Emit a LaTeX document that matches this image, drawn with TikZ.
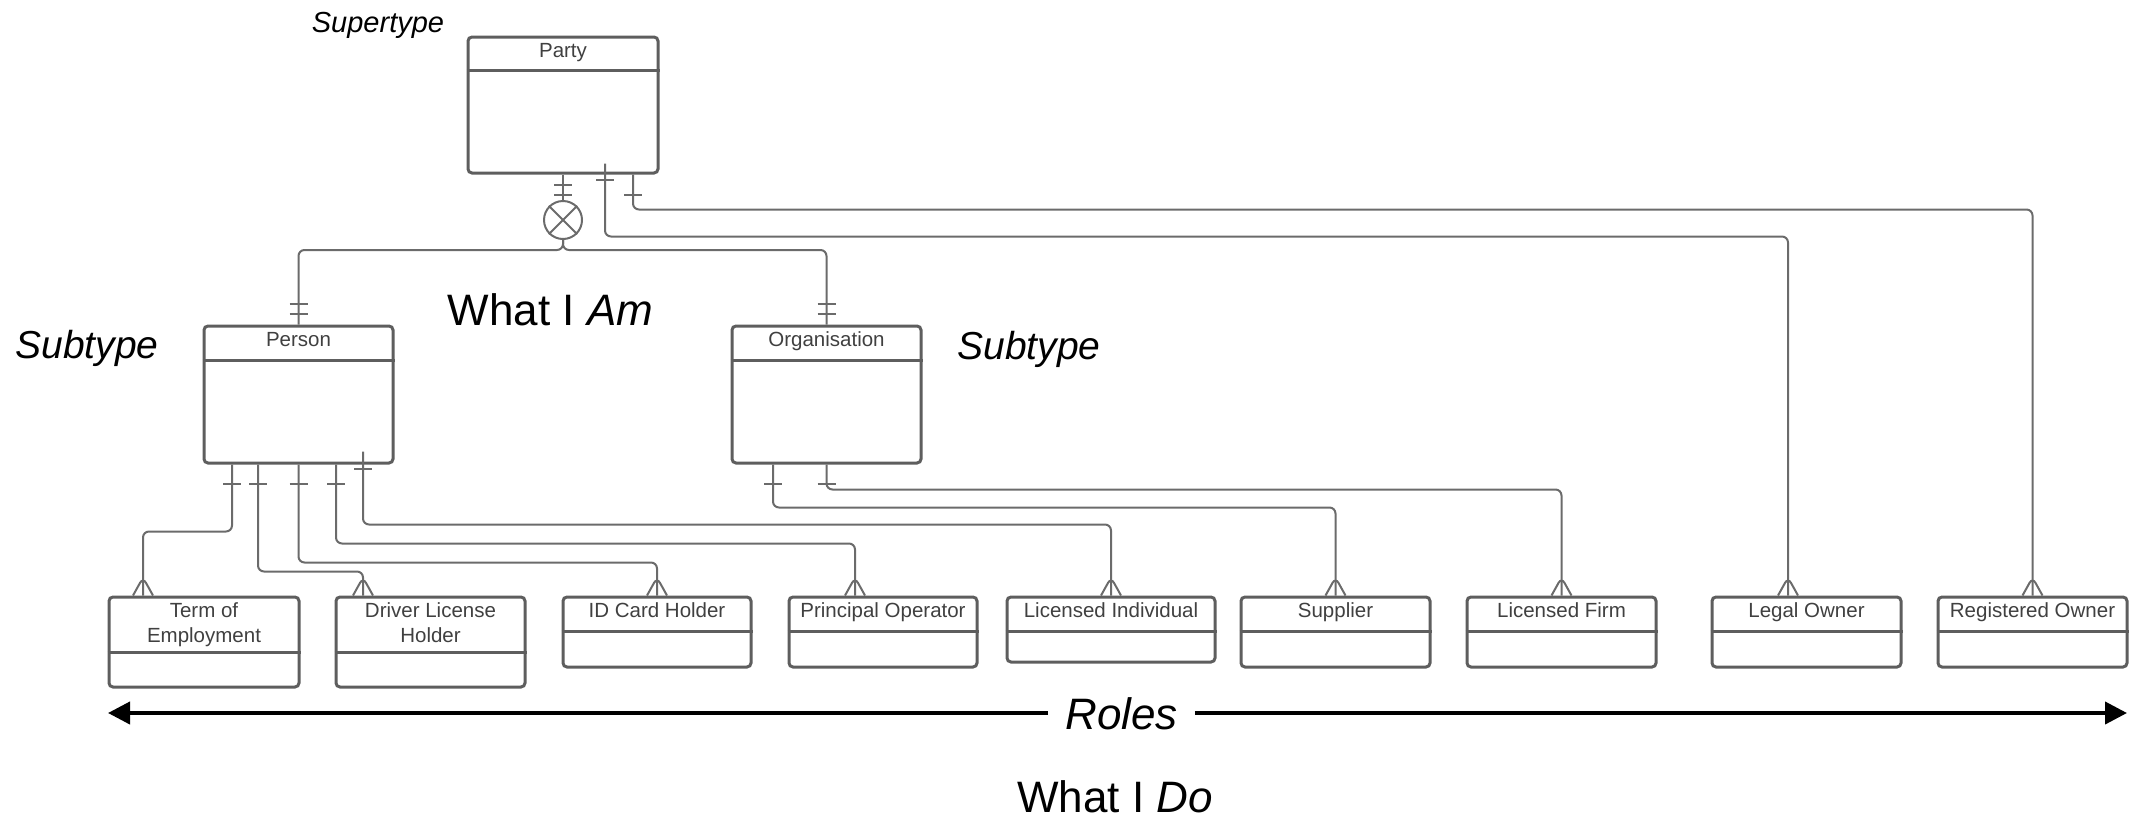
\documentclass[tikz,border=0pt]{standalone}
\usepackage{fontspec}
\setmainfont{Liberation Sans}
\usepackage{tikz}
\usetikzlibrary{arrows.meta}
\definecolor{erline}{HTML}{5E5E5E}
\definecolor{erlink}{HTML}{6B6B6B}
\definecolor{ertext}{HTML}{404040}

\tikzset{
  entity/.style={draw=erline, line width=3pt, rounded corners=4pt, inner sep=0pt},
  entity line/.style={draw=erline, line width=3pt},
  entity label/.style={font=\fontsize{20.5}{25}\selectfont, text=ertext, anchor=base, inner sep=0pt},
  conn/.style={draw=erlink, line width=2pt, rounded corners=6pt},
  disjoint/.style={circle, draw=erlink, line width=2pt, minimum size=38pt, inner sep=0pt},
  crow/.pic={\draw[erlink, line width=2pt] (-10,0) -- (0,-18) -- (10,0);},
  onebar/.pic={\draw[erlink, line width=2pt] (-9,0) -- (9,0);},
  caption/.style={font=\fontsize{44}{52}\selectfont, anchor=base, inner sep=0pt},
  roles arrow/.style={line width=4pt, -{Triangle[length=22pt,width=22pt]}}
}

% box with a name row on top: name, centre x, top y, width, height, name row height, text
\newcommand{\erentity}[7]{%
  \node[entity, minimum width=#4pt, minimum height=#5pt] (#1) at (#2,#3+#5/2) {};
  \draw[entity line] ([yshift=-#6pt]#1.north west) -- ([yshift=-#6pt]#1.north east);
  \node[entity label] (#1-label) at ([yshift=-22pt]#1.north) {\begin{tabular}[t]{@{}c@{}}#7\end{tabular}};
}

\begin{document}
\begin{tikzpicture}[x=1pt, y=-1pt]
  \useasboundingbox (0,0) rectangle (2141,817);

  % --- Supertype ---
  \erentity{party}{563}{37}{190}{136}{35}{Party}
  \node[caption, font=\fontsize{29}{35}\selectfont\itshape] (supertype) at (378,32) {Supertype};

  % --- Subtypes ---
  \erentity{person}{298.5}{326}{189}{137}{36}{Person}
  \erentity{organisation}{826.5}{326}{189}{137}{36}{Organisation}
  \node[caption, font=\fontsize{39}{47}\selectfont\itshape] (subleft) at (87,358) {Subtype};
  \node[caption, font=\fontsize{39}{47}\selectfont\itshape] (subright) at (1029,359) {Subtype};
  \node[caption] (whatam) at (550.5,325) {What I \textit{Am}};

  % exclusive subtype link
  \node[disjoint] (excl) at (563,220) {};
  \draw[erlink, line width=2pt] (excl.north west) -- (excl.south east) (excl.north east) -- (excl.south west);
  \draw[conn] (party.south) -- (excl.north);
  \draw[conn] (excl.south) -- ++(0,10) -| (person.north);
  \draw[conn] (excl.south) -- ++(0,10) -| (organisation.north);
  \foreach \dy in {-10,-20} \path ([yshift=\dy pt]party.south) pic {onebar};
  \foreach \dy in {11,21} {
    \path ([yshift=\dy pt]person.north) pic {onebar};
    \path ([yshift=\dy pt]organisation.north) pic {onebar};
  }

  % --- Roles ---
  \erentity{termemp}{204}{597}{190}{90}{57}{Term of\\Employment}
  \erentity{driver}{430.5}{597}{189}{90}{57}{Driver License\\Holder}
  \erentity{idcard}{657}{597}{188}{70}{36}{ID Card Holder}
  \erentity{principal}{883}{597}{188}{70}{36}{Principal Operator}
  \erentity{licind}{1111}{597}{208}{65}{36}{Licensed Individual}
  \erentity{supplier}{1335.5}{597}{189}{70}{36}{Supplier}
  \erentity{licfirm}{1561.5}{597}{189}{70}{36}{Licensed Firm}
  \erentity{legal}{1806.5}{597}{189}{70}{36}{Legal Owner}
  \erentity{regowner}{2032.5}{597}{189}{70}{36}{Registered Owner}

  % Person roles
  \draw[conn] ([xshift=-66.5pt]person.south) -- ++(0,67) -| ([xshift=-61pt]termemp.north) pic {crow};
  \draw[conn] ([xshift=-40.5pt]person.south) -- ++(0,107) -| ([xshift=-67.5pt]driver.north) pic {crow};
  \draw[conn] (person.south) -- ++(0,98) -| (idcard.north) pic {crow};
  \draw[conn] ([xshift=37.5pt]person.south) -- ++(0,79) -| ([xshift=-28pt]principal.north) pic {crow};
  \draw[conn] ([xshift=64.5pt,yshift=13pt]person.south) -- ++(0,73) -| (licind.north) pic {crow};
  \foreach \dx in {-66.5,-40.5,0,37.5} \path ([xshift=\dx pt,yshift=-19pt]person.south) pic {onebar};
  \path ([xshift=64.5pt,yshift=-4pt]person.south) pic {onebar};

  % Organisation roles
  \draw[conn] ([xshift=-53.5pt]organisation.south) -- ++(0,43) -| (supplier.north) pic {crow};
  \draw[conn] (organisation.south) -- ++(0,25) -| (licfirm.north) pic {crow};
  \foreach \dx in {-53.5,0} \path ([xshift=\dx pt,yshift=-19pt]organisation.south) pic {onebar};

  % Party roles
  \draw[conn] ([xshift=42pt,yshift=11pt]party.south) -- ++(0,73) -| ([xshift=-18.5pt]legal.north) pic {crow};
  \draw[conn] ([xshift=70pt]party.south) -- ++(0,35) -| (regowner.north) pic {crow};
  \path ([xshift=42pt,yshift=-5pt]party.south) pic {onebar};
  \path ([xshift=70pt,yshift=-20pt]party.south) pic {onebar};

  % Arrow at bottom
  \coordinate (rolesL) at (108,713);
  \coordinate (rolesR) at (2127,713);
  \node[caption, font=\fontsize{44}{52}\selectfont\itshape, inner xsep=17pt] (roles) at (1121.5,729) {Roles};
  \draw[roles arrow] (rolesL -| roles.west) -- (rolesL);
  \draw[roles arrow] (rolesR -| roles.east) -- (rolesR);
  \node[caption] (whatdo) at (1115,812) {What I \textit{Do}};
\end{tikzpicture}
\end{document}
